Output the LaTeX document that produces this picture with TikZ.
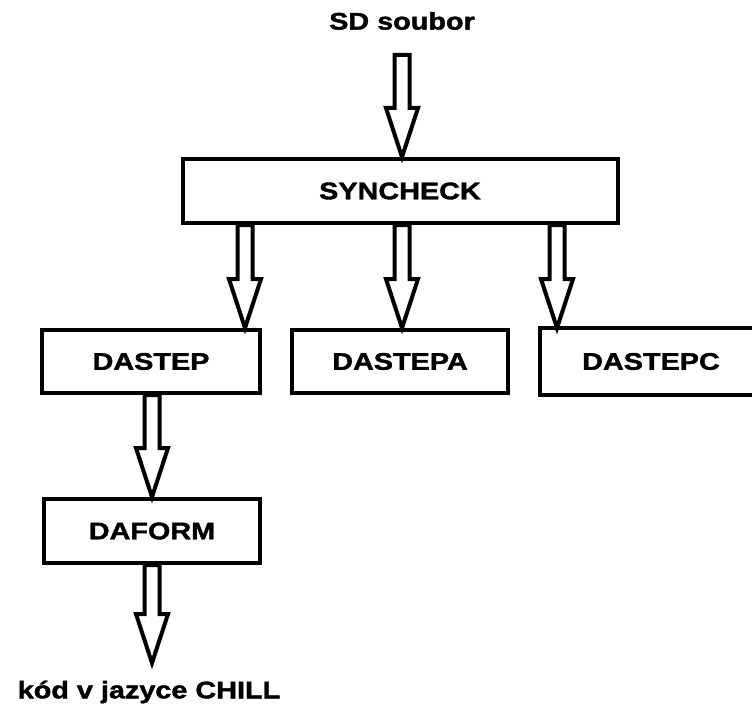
\documentclass[tikz,border=0pt]{standalone}
\usepackage{fontspec}
\setmainfont{Liberation Sans}[FakeStretch=1.2,FakeBold=1.6]
\usetikzlibrary{calc}

\tikzset{
  lbl/.style={font=\fontsize{24}{28}\selectfont\bfseries, inner sep=0pt},
  stage/.style={draw, line width=4pt, minimum height=64pt, inner sep=0pt,
                font=\fontsize{24}{28}\selectfont\bfseries},
  blk/.style={draw, line width=4pt, line join=miter, fill=white},
}

% hollow block arrow pointing down, from (#1) to the tip (#2)
\newcommand\blockarrow[2]{%
  \draw[blk] let \p1=(#1), \p2=(#2) in
    (\x1-7.5pt,\y1) -- (\x1-7.5pt,\y2+49pt) -- (\x1-16pt,\y2+49pt) --
    (\x2,\y2) -- (\x1+16pt,\y2+49pt) -- (\x1+7.5pt,\y2+49pt) --
    (\x1+7.5pt,\y1) -- cycle;}

\begin{document}
\begin{tikzpicture}[x=1pt,y=-1pt]
  \useasboundingbox (0,0) rectangle (752,706);
  \fill[white] (0,0) rectangle (752,706);

  % stages
  \node[lbl] (sd) at (402,21) {SD soubor};
  \node[stage, minimum width=435pt] (sync) at (400,191) {SYNCHECK};
  \node[stage, minimum width=218pt, minimum height=63pt] (dastep) at (151,361.5) {DASTEP};
  \node[stage, minimum width=216pt, minimum height=63pt] (dastepa) at (400,361.5) {DASTEPA};
  % this box runs on past the right edge of the page: no right side
  \node[stage, draw=none, minimum width=218pt, minimum height=63pt] (dastepc) at (651,361.5) {DASTEPC};
  \draw[line width=4pt, line join=miter]
    (dastepc.north east) ++(20pt,0) -- (dastepc.north west)
    -- (dastepc.south west) -- ++(240pt,0);
  \node[stage, minimum width=216pt] (daform) at (152,531) {DAFORM};
  \node[lbl] (out) at (149,692) {kód v jazyce CHILL};

  % arrow anchors
  \coordinate (in) at (402,55);
  \coordinate (xl) at (245,0);
  \coordinate (xm) at (402,0);
  \coordinate (xr) at (557,0);
  \coordinate (xd) at (152,0);
  \coordinate (tail) at (152,663);

  % connectors
  \blockarrow{in}{sync.north -| xm}
  \blockarrow{sync.south -| xl}{dastep.north -| xl}
  \blockarrow{sync.south -| xm}{dastepa.north -| xm}
  \blockarrow{sync.south -| xr}{dastepc.north -| xr}
  \blockarrow{dastep.south -| xd}{daform.north -| xd}
  \blockarrow{daform.south -| xd}{tail}
\end{tikzpicture}
\end{document}
